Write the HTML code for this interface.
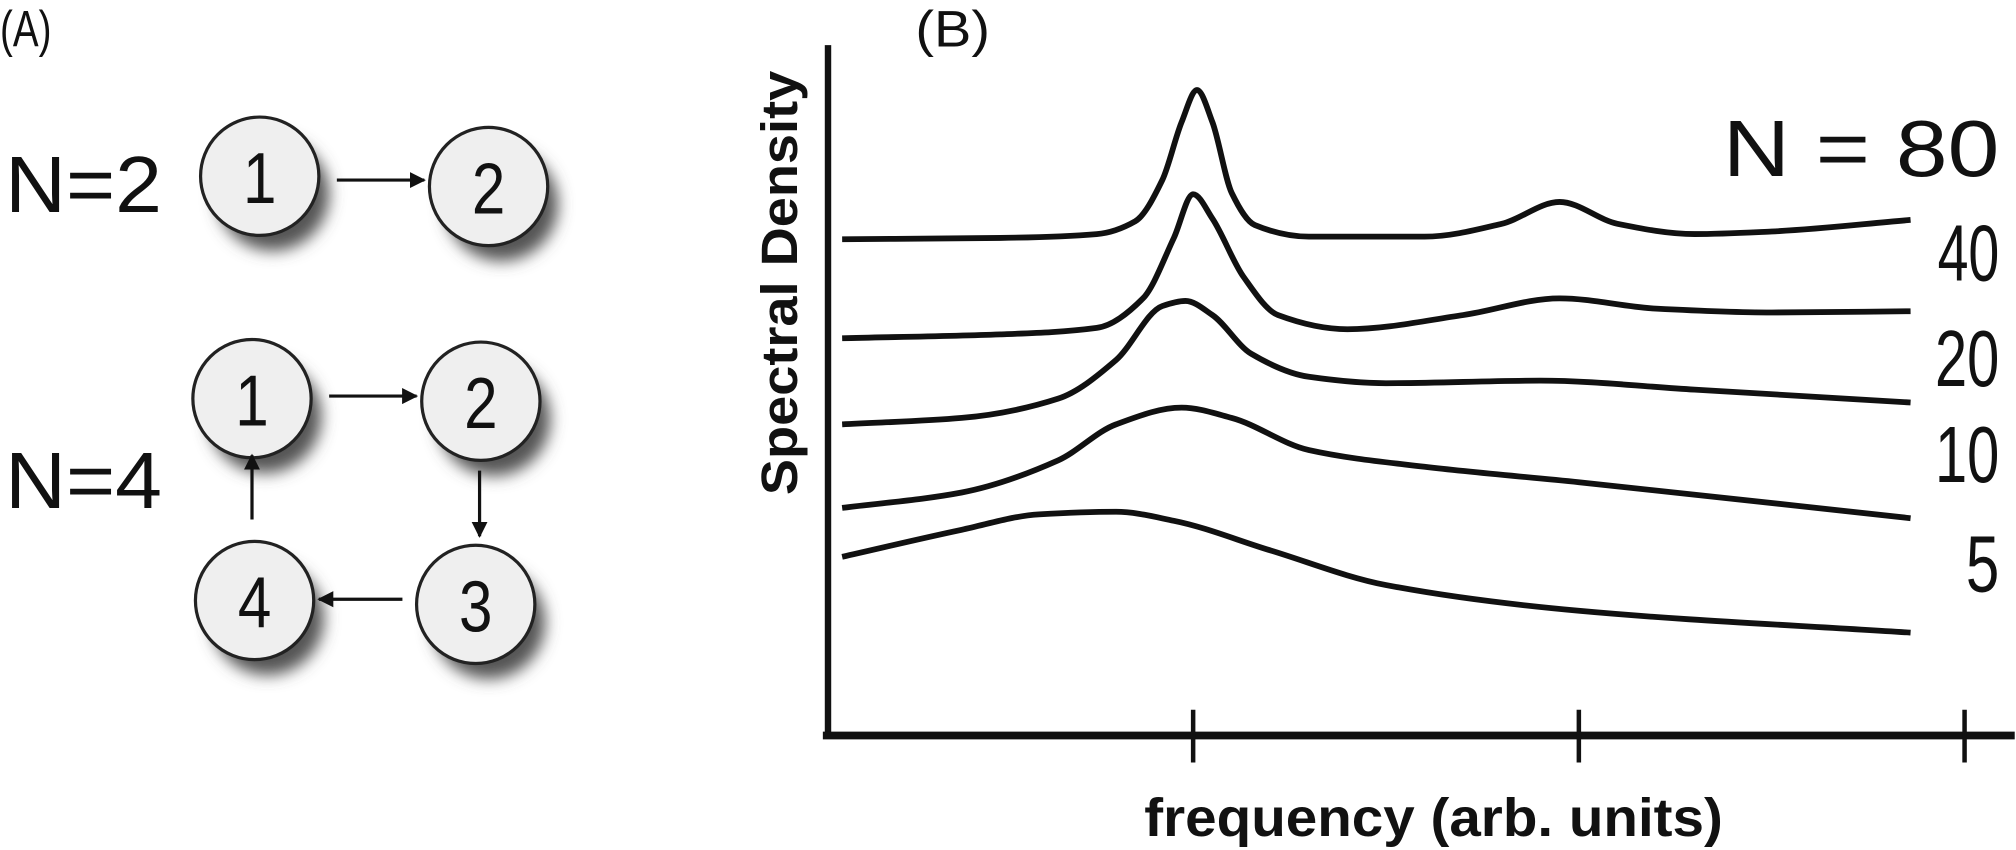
<!DOCTYPE html>
<html><head><meta charset="utf-8"><style>
html,body{margin:0;padding:0;background:#fff;}
svg{display:block;}
text{font-family:"Liberation Sans",sans-serif;fill:#111;}
</style></head><body>
<svg id="fig" width="2016" height="850" viewBox="0 0 1568 661">
<defs>
<filter id="sh" x="-50%" y="-50%" width="200%" height="200%"><feGaussianBlur stdDeviation="6"/></filter>
<marker id="ah" viewBox="0 0 10 10" refX="9" refY="5" markerWidth="5" markerHeight="5" orient="auto"><path d="M0,0 L10,5 L0,10 z" fill="#111"/></marker>
</defs>
<g>
<text x="0" y="36" font-size="40" textLength="40" lengthAdjust="spacingAndGlyphs">(A)</text>
<text x="4" y="165" font-size="62" textLength="122" lengthAdjust="spacingAndGlyphs">N=2</text>
<text x="4" y="395" font-size="62" textLength="122" lengthAdjust="spacingAndGlyphs">N=4</text>
<g id="nodes"></g>
</g>
<g>
<text x="712" y="36" font-size="40" textLength="58" lengthAdjust="spacingAndGlyphs">(B)</text>
<line x1="644" y1="35" x2="644" y2="574" stroke="#111" stroke-width="5"/>
<line x1="640" y1="572" x2="1567" y2="572" stroke="#111" stroke-width="6"/>
<g id="ticks"></g>
<g id="curves"></g>
<text x="890" y="650" font-size="42" font-weight="bold" textLength="450" lengthAdjust="spacingAndGlyphs">frequency (arb. units)</text>
<text transform="translate(620,385) rotate(-90)" font-size="40" font-weight="bold" textLength="330" lengthAdjust="spacingAndGlyphs">Spectral Density</text>
<g id="labels"></g>
</g>
</svg>
<script>
const NS="http://www.w3.org/2000/svg";
const tickValues=[1,2,3];
const seriesNames=["N = 80","40","20","10","5"];
const f80=[0.09,0.5,0.75,0.85,0.92,0.97,1.01,1.05,1.1,1.16,1.3,1.6,1.8,1.95,2.1,2.3,2.5,2.86];
const v80=[3.86,3.87,3.90,4.00,4.32,4.77,5.02,4.77,4.22,3.97,3.88,3.88,3.98,4.15,3.98,3.90,3.92,4.01];
const f40=[0.09,0.5,0.75,0.87,0.95,1.0,1.05,1.13,1.22,1.4,1.7,1.95,2.2,2.5,2.86];
const v40=[3.09,3.12,3.17,3.40,3.87,4.21,4.02,3.57,3.27,3.16,3.27,3.40,3.32,3.29,3.30];
const f20=[0.09,0.4,0.65,0.8,0.92,0.98,1.05,1.15,1.3,1.5,1.9,2.3,2.86];
const v20=[2.42,2.47,2.62,2.92,3.34,3.38,3.27,2.97,2.79,2.74,2.76,2.69,2.59];
const f10=[0.09,0.4,0.65,0.8,0.97,1.1,1.3,1.6,2.0,2.86];
const v10=[1.77,1.89,2.14,2.42,2.55,2.47,2.22,2.09,1.97,1.69];
const f5=[0.09,0.4,0.6,0.8,0.95,1.2,1.5,2.0,2.86];
const v5=[1.39,1.60,1.72,1.74,1.67,1.44,1.17,0.97,0.80];
const seriesF=[f80,f40,f20,f10,f5];
const seriesV=[v80,v40,v20,v10,v5];
const labelY=[137,218,300,375,460];
const labelW=[215,48,50,50,26];
const xS=f=>628+300*f;
const yS=v=>572-v*100;
function path(fs,vs){
 const n=fs.length,x=fs.map(xS),y=vs.map(yS),d=[],m=new Array(n);
 for(let i=0;i<n-1;i++)d.push((y[i+1]-y[i])/(x[i+1]-x[i]));
 m[0]=d[0];m[n-1]=d[n-2];
 for(let i=1;i<n-1;i++){
  if(d[i-1]*d[i]<=0)m[i]=0;
  else{const h0=x[i]-x[i-1],h1=x[i+1]-x[i];const w1=2*h1+h0,w2=h1+2*h0;m[i]=(w1+w2)/(w1/d[i-1]+w2/d[i]);}
 }
 let s="M"+x[0]+","+y[0];
 for(let i=0;i<n-1;i++){
  const h=(x[i+1]-x[i])/3;
  s+=" C"+(x[i]+h)+","+(y[i]+m[i]*h)+" "+(x[i+1]-h)+","+(y[i+1]-m[i+1]*h)+" "+x[i+1]+","+y[i+1];
 }
 return s;
}
const cg=document.getElementById("curves");
seriesF.forEach((fs,i)=>{
 const pth=document.createElementNS(NS,"path");
 pth.setAttribute("d",path(fs,seriesV[i]));
 pth.setAttribute("fill","none");pth.setAttribute("stroke","#111");pth.setAttribute("stroke-width","4.5");
 pth.setAttribute("stroke-linejoin","round");
 
 
 cg.appendChild(pth);
});
const lg=document.getElementById("labels");
seriesNames.forEach((n,i)=>{
 const t=document.createElementNS(NS,"text");
 t.setAttribute("x",1555-labelW[i]);t.setAttribute("y",labelY[i]);t.setAttribute("font-size","62");
 t.setAttribute("textLength",labelW[i]);t.setAttribute("lengthAdjust","spacingAndGlyphs");
 t.textContent=n;
 
 
 lg.appendChild(t);
});
const tg=document.getElementById("ticks");
tickValues.forEach(v=>{
 const l=document.createElementNS(NS,"line");
 l.setAttribute("x1",xS(v));l.setAttribute("x2",xS(v));l.setAttribute("y1",552);l.setAttribute("y2",593);
 l.setAttribute("stroke","#111");l.setAttribute("stroke-width","3.5");
 
 
 tg.appendChild(l);
});
const ng=document.getElementById("nodes");
const nodes=[[202,137,"1"],[380,145,"2"],[196,310,"1"],[374,312,"2"],[370,470,"3"],[198,467,"4"]];
nodes.forEach(n=>{
 const s=document.createElementNS(NS,"circle");
 s.setAttribute("cx",n[0]+10);s.setAttribute("cy",n[1]+14);s.setAttribute("r",44);s.setAttribute("fill","#555");s.setAttribute("filter","url(#sh)");
 
 
 ng.appendChild(s);
 const c=document.createElementNS(NS,"circle");
 c.setAttribute("cx",n[0]);c.setAttribute("cy",n[1]);c.setAttribute("r",46);c.setAttribute("fill","#efefef");c.setAttribute("stroke","#222");c.setAttribute("stroke-width","2.5");
 
 
 ng.appendChild(c);
 const t=document.createElementNS(NS,"text");
 t.setAttribute("x",n[0]-13);t.setAttribute("y",n[1]+21);t.setAttribute("font-size","56");
 t.setAttribute("textLength","26");t.setAttribute("lengthAdjust","spacingAndGlyphs");
 t.textContent=n[2];
 
 
 ng.appendChild(t);
});
const arrows=[[262,140,330,140],[256,308,324,308],[373,366,373,417],[313,466,248,466],[196,404,196,354]];
arrows.forEach(a=>{
 const l=document.createElementNS(NS,"line");
 l.setAttribute("x1",a[0]);l.setAttribute("y1",a[1]);l.setAttribute("x2",a[2]);l.setAttribute("y2",a[3]);
 l.setAttribute("stroke","#111");l.setAttribute("stroke-width","2.5");l.setAttribute("marker-end","url(#ah)");
 
 
 ng.appendChild(l);
});
</script>
</body></html>
